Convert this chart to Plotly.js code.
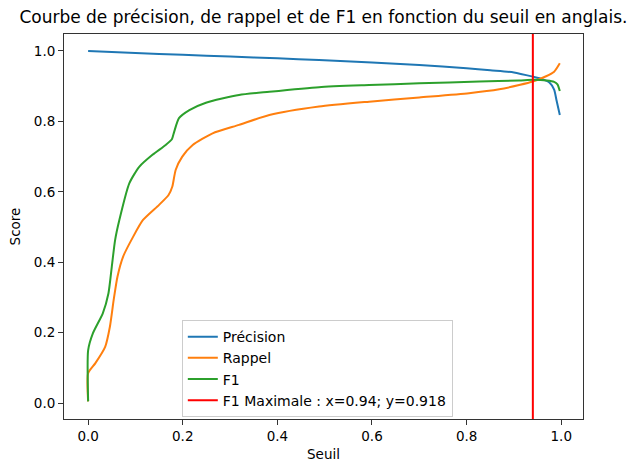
<!DOCTYPE html>
<html>
<head>
<meta charset="utf-8">
<script src="https://cdn.plot.ly/plotly-3.0.1.min.js"></script>
<style>html,body{margin:0;padding:0;background:#fff;}#chart{width:631px;height:463px;}</style>
</head>
<body>
<div id="chart"></div>
<script>
const precisionX = [0, 0.1, 0.2, 0.3, 0.4, 0.488, 0.6, 0.7, 0.8, 0.85, 0.9, 0.94, 0.96, 0.975, 0.985, 0.99, 0.997];
const precisionY = [1.0, 0.994, 0.989, 0.984, 0.979, 0.974, 0.967, 0.960, 0.951, 0.945, 0.939, 0.927, 0.92, 0.91, 0.89, 0.86, 0.818];

const rappelX = [0, 0, 0.015, 0.036, 0.046, 0.054, 0.062, 0.074, 0.095, 0.116, 0.150, 0.170, 0.178, 0.185, 0.199, 0.221, 0.263, 0.319, 0.383, 0.488, 0.594, 0.70, 0.805, 0.869, 0.911, 0.94, 0.968, 0.985, 0.997];
const rappelY = [0.005, 0.085, 0.113, 0.16, 0.217, 0.293, 0.359, 0.416, 0.472, 0.52, 0.563, 0.591, 0.615, 0.662, 0.700, 0.733, 0.766, 0.790, 0.818, 0.842, 0.856, 0.868, 0.880, 0.891, 0.903, 0.913, 0.928, 0.941, 0.965];

const f1X = [0, 0, 0.010, 0.031, 0.043, 0.050, 0.057, 0.066, 0.087, 0.108, 0.136, 0.164, 0.177, 0.182, 0.192, 0.214, 0.249, 0.319, 0.383, 0.488, 0.594, 0.70, 0.827, 0.911, 0.94, 0.97, 0.985, 0.992, 0.997];
const f1Y = [0.005, 0.15, 0.198, 0.255, 0.312, 0.387, 0.463, 0.52, 0.624, 0.671, 0.705, 0.733, 0.749, 0.771, 0.809, 0.832, 0.853, 0.875, 0.884, 0.897, 0.903, 0.908, 0.913, 0.916, 0.918, 0.916, 0.912, 0.905, 0.886];

const bestThreshold = 0.94;
const bestF1 = 0.918;

const seriesNames = ['Précision', 'Rappel', 'F1'];
const seriesColors = ['#1f77b4', '#ff7f0e', '#2ca02c'];

const font = 'DejaVu Sans, sans-serif';

const mk = (x, y, i) => ({
  x: x, y: y, type: 'scatter', mode: 'lines', name: seriesNames[i],
  line: {color: seriesColors[i], width: 2, shape: 'spline', smoothing: 0.6}
});

const data = [mk(precisionX, precisionY, 0), mk(rappelX, rappelY, 1), mk(f1X, f1Y, 2)];

const layout = {
  width: 631, height: 463,
  paper_bgcolor: '#fff', plot_bgcolor: '#fff',
  margin: {l: 64, r: 48, t: 34, b: 44},
  font: {family: font, size: 13, color: '#000'},
  title: {text: 'Courbe de précision, de rappel et de F1 en fonction du seuil en anglais.', font: {family: font, size: 17, color: '#000'}, x: 0.5125, xanchor: 'center', y: 0.963, yanchor: 'middle'},
  xaxis: {
    range: [-0.051, 1.046], tickvals: [0, 0.2, 0.4, 0.6, 0.8, 1.0], tickformat: '.1f',
    showgrid: false, zeroline: false, showline: true, mirror: true, linecolor: '#333', linewidth: 1,
    ticks: 'outside', ticklen: 5, tickcolor: '#333', tickfont: {size: 13.5},
    title: {text: 'Seuil', font: {size: 13.5}, standoff: 6}
  },
  yaxis: {
    range: [-0.045, 1.048], tickvals: [0, 0.2, 0.4, 0.6, 0.8, 1.0], tickformat: '.1f',
    showgrid: false, zeroline: false, showline: true, mirror: true, linecolor: '#333', linewidth: 1,
    ticks: 'outside', ticklen: 5, tickcolor: '#333', tickfont: {size: 13.5},
    title: {text: 'Score', font: {size: 13.5}, standoff: 10}
  },
  shapes: [{
    type: 'line', xref: 'x', yref: 'paper', x0: bestThreshold, x1: bestThreshold, y0: 0, y1: 1,
    line: {color: 'red', width: 2}, layer: 'above',
    showlegend: true, name: 'F1 Maximale : x=' + bestThreshold + '; y=' + bestF1
  }],
  legend: {
    x: 0.227, y: 0.257, xanchor: 'left', yanchor: 'top',
    bgcolor: 'rgba(255,255,255,0.8)', bordercolor: '#ccc', borderwidth: 1,
    font: {size: 14}, itemwidth: 30, tracegroupgap: 0
  },
  showlegend: true
};

Plotly.newPlot('chart', data, layout, {displayModeBar: false, staticPlot: true});
</script>
</body>
</html>
